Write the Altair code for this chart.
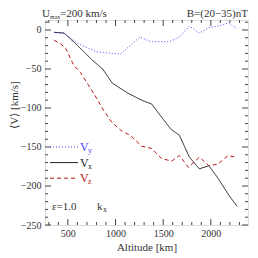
import altair as alt
import pandas as pd

FONT = "Liberation Serif"

# ---- data ----
alt_vx = [355, 460, 560, 660, 760, 865, 965, 1130, 1275, 1380, 1485, 1580, 1670, 1775, 1880, 1980, 2075, 2190, 2275]
vx = [-3, -4, -15, -27, -39, -50, -68, -81, -90, -95, -112, -127, -135, -163, -178, -174, -190, -212, -226]

alt_vy = [355, 460, 600, 800, 1050, 1255, 1370, 1565, 1670, 1775, 1880, 1980, 2080, 2180, 2275]
vy = [-3, -4, -17, -28, -31, -9, -15, -15, -9, 5, -4, 3, 5, 9, 2]

alt_vz = [355, 427, 480, 560, 635, 770, 875, 965, 1070, 1155, 1275, 1380, 1485, 1590, 1670, 1765, 1880, 1980, 2075, 2180, 2265]
vz = [-13, -18, -24, -45, -55, -81, -103, -119, -130, -135, -149, -152, -165, -168, -161, -176, -163, -174, -172, -161, -163]

series_order = ["Vy", "Vx", "Vz"]
series_sub = ["y", "x", "z"]
legend_v = [-150, -170, -190]
colors = ["#4848ff", "#222222", "#b81414"]
dashes = [[1, 2], [1, 0], [4, 3]]

x_major = [500, 1000, 1500, 2000]
x_minor = [300, 400, 600, 700, 800, 900, 1100, 1200, 1300, 1400, 1600, 1700, 1800, 1900, 2100, 2200, 2300]
y_major = [0, -50, -100, -150, -200, -250]
y_minor = [10, -10, -20, -30, -40, -60, -70, -80, -90, -110, -120, -130, -140,
           -160, -170, -180, -190, -210, -220, -230, -240]

df = pd.concat([
    pd.DataFrame({"alt": alt_vx, "v": vx, "series": "Vx"}),
    pd.DataFrame({"alt": alt_vy, "v": vy, "series": "Vy"}),
    pd.DataFrame({"alt": alt_vz, "v": vz, "series": "Vz"}),
])
leg = pd.DataFrame({"series": series_order, "sub": series_sub, "v": legend_v})
one = pd.DataFrame({"d": [0]})

W, H = 203, 205
TC = "#333333"
xs = alt.Scale(domain=[260, 2390], nice=False, zero=False)
ys = alt.Scale(domain=[-250, 12.8], nice=False, zero=False)
color = alt.Color("series:N", scale=alt.Scale(domain=series_order, range=colors), legend=None)
dash = alt.StrokeDash("series:N", scale=alt.Scale(domain=series_order, range=dashes), legend=None)

x_axis = alt.Axis(
    values=x_major, format="d", ticks=False, domain=False, grid=False,
    labelFont=FONT, labelFontSize=10, labelColor=TC, labelPadding=3,
    title="Altitude [km]", titleFont=FONT, titleFontSize=11,
    titleFontWeight="normal", titleColor=TC, titlePadding=3)
y_axis = alt.Axis(
    values=y_major, format="d", ticks=False, domain=False, grid=False,
    labelFont=FONT, labelFontSize=10, labelColor=TC, labelPadding=4,
    title=None)
X = lambda f: alt.X(f + ":Q", scale=xs, axis=x_axis)
Y = lambda f: alt.Y(f + ":Q", scale=ys, axis=y_axis)

lines = alt.Chart(df).mark_line(strokeWidth=1, clip=True).encode(
    x=X("alt"), y=Y("v"), color=color, strokeDash=dash,
)

def xticks(vals, length):
    d = pd.DataFrame({"alt": vals})
    b = alt.Chart(d).mark_rule(color="#444444", strokeWidth=1)
    bottom = b.encode(x=X("alt"), y=alt.value(H), y2=alt.value(H - length))
    top = b.encode(x=X("alt"), y=alt.value(0), y2=alt.value(length))
    return [bottom, top]

def yticks(vals, length):
    d = pd.DataFrame({"v": vals})
    b = alt.Chart(d).mark_rule(color="#444444", strokeWidth=1)
    left = b.encode(y=Y("v"), x=alt.value(0), x2=alt.value(length))
    right = b.encode(y=Y("v"), x=alt.value(W), x2=alt.value(W - length))
    return [left, right]

ticks = xticks(x_major, 6) + xticks(x_minor, 3) + yticks(y_major, 6) + yticks(y_minor, 3)

leg_lines = alt.Chart(leg).mark_rule(strokeWidth=1).encode(
    x=alt.value(5), x2=alt.value(33), y=Y("v"), color=color, strokeDash=dash)
leg_v = alt.Chart(leg).mark_text(text="V", font=FONT, fontSize=12, align="left", baseline="middle").encode(
    x=alt.value(35), y=Y("v"), color=color)
leg_sub = alt.Chart(leg).mark_text(font=FONT, fontSize=8, align="left", baseline="middle", dy=4).encode(
    x=alt.value(43), y=Y("v"), text="sub:N", color=color)

def txt(s, x, y, size=11, align="left", baseline="alphabetic", angle=0, c=TC):
    return alt.Chart(one).mark_text(text=s, font=FONT, fontSize=size, align=align,
                                    baseline=baseline, angle=angle, color=c).encode(
        x=alt.value(x), y=alt.value(y))

annots = [
    txt("U", -3, -3),
    txt("max", 5, -1, size=6),
    txt("=200 km/s", 15, -3),
    txt("B=(20\u221235)nT", W, -3, align="right"),
    txt("\u27e8V\u27e9 [km/s]", -30, 85, angle=270, align="center", baseline="middle"),
    txt("\u03b5=1.0", 7, 187, baseline="middle"),
    txt("k", 52, 187, baseline="middle"),
    txt("x", 58, 190, size=8, baseline="middle"),
]

chart = alt.layer(lines, *ticks, leg_lines, leg_v, leg_sub, *annots).properties(
    width=W, height=H,
    autosize=alt.AutoSizeParams(type="none"),
    padding={"left": 37, "top": 12, "right": 2, "bottom": 29},
).configure_view(stroke="#444444", strokeWidth=1).configure_axis(
    labelFont=FONT, titleFont=FONT, titleFontWeight="normal"
).configure(background="white")

chart.save("out.html", embed_options={"renderer": "svg", "actions": False})
